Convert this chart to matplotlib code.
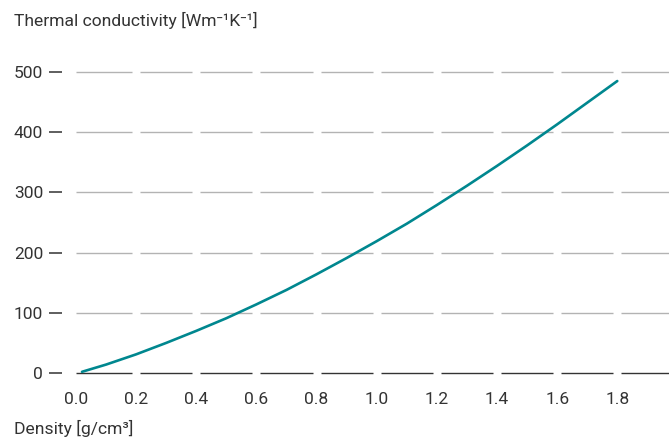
import matplotlib
matplotlib.use("Agg")
import matplotlib.pyplot as plt
import numpy as np

# Thermal conductivity versus density
density = [0.02, 0.1, 0.2, 0.3, 0.4, 0.5, 0.6, 0.7, 0.8, 0.9, 1.0,
           1.1, 1.2, 1.3, 1.4, 1.5, 1.6, 1.7, 1.8]
conductivity = [2, 14, 31, 50, 70, 91, 114, 138, 164, 191, 219,
                248, 279, 311, 344, 378, 413, 449, 485]

x_ticks = [0.0, 0.2, 0.4, 0.6, 0.8, 1.0, 1.2, 1.4, 1.6, 1.8]
x_tick_labels = ["0.0", "0.2", "0.4", "0.6", "0.8", "1.0", "1.2", "1.4", "1.6", "1.8"]
y_ticks = [0, 100, 200, 300, 400, 500]
y_tick_labels = ["0", "100", "200", "300", "400", "500"]

FONT = ["Roboto", "DejaVu Sans"]
TEXT = "#333333"
plt.rcParams["font.family"] = FONT

W, H = 669, 442
fig = plt.figure(figsize=(W / 100, H / 100), dpi=100)
left_px, right_px, bottom_px, top_px = 76, 669, 373, 72
ax = fig.add_axes([left_px / W, 1 - bottom_px / H,
                   (right_px - left_px) / W, (bottom_px - top_px) / H])

xmin, xmax = 0.0, 1.972
ax.set_xlim(xmin, xmax)
ax.set_ylim(0, 500)

# Broken horizontal grid: segments between x ticks with small gaps at each tick
gap = (xmax - xmin) * 4.0 / (right_px - left_px)
bounds = list(x_ticks) + [xmax]
for yv in y_ticks:
    color = TEXT if yv == 0 else "#b3b3b3"
    for i in range(len(bounds) - 1):
        x0 = bounds[i] + (gap if bounds[i] > xmin else 0)
        x1 = bounds[i + 1] - (gap if i + 1 < len(bounds) - 1 else 0)
        ax.plot([x0, x1], [yv, yv], color=color, lw=1.0, clip_on=False,
                solid_capstyle="butt", zorder=1)

ax.plot(density, conductivity, color="#00878f", lw=1.9, zorder=3,
        solid_capstyle="round", clip_on=False)

for s in ax.spines.values():
    s.set_visible(False)
ax.spines["left"].set_position(("outward", 9.9))

ax.set_yticks(y_ticks)
ax.set_yticklabels(y_tick_labels)
ax.set_xticks(x_ticks)
ax.set_xticklabels(x_tick_labels)
ax.tick_params(axis="y", direction="out", length=9.4, width=1.1,
               color=TEXT, pad=4.3, labelsize=12.5, labelcolor=TEXT)
ax.tick_params(axis="x", length=0, pad=13.5, labelsize=12.5, labelcolor=TEXT)
ax.set_facecolor("none")

fig.text(14 / W, 1 - 26 / H, "Thermal conductivity [Wm\u207b\u00b9K\u207b\u00b9]",
         fontsize=12.6, color=TEXT, ha="left", va="baseline")
fig.text(14 / W, 1 - 434 / H, "Density [g/cm\u00b3]",
         fontsize=12.6, color=TEXT, ha="left", va="baseline")

fig.savefig("out.png", dpi=100, facecolor="white")
